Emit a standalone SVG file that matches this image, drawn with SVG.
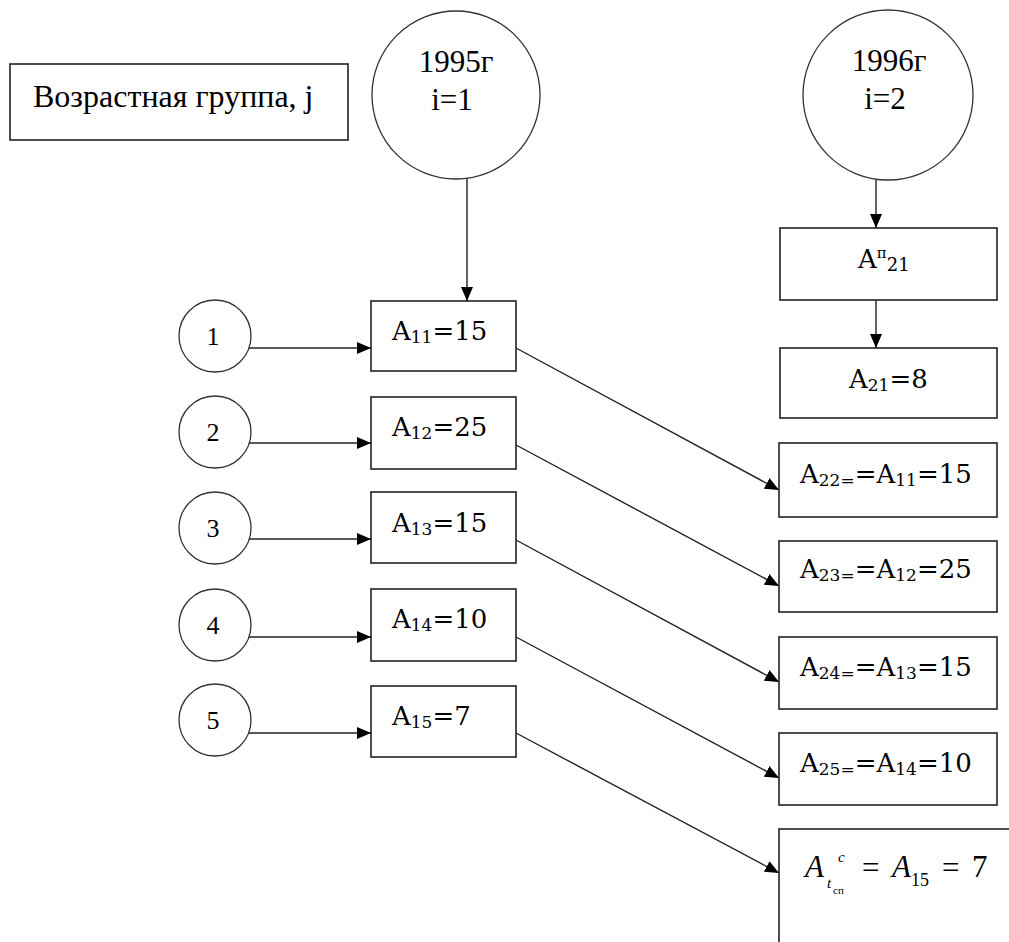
<svg xmlns="http://www.w3.org/2000/svg" width="1009" height="942" viewBox="0 0 1009 942">
<style>
.box{fill:#fff;stroke:#222;stroke-width:1.6}
.circ{fill:#fff;stroke:#333;stroke-width:1.3}
.ln{fill:none;stroke:#222;stroke-width:1.4}
.t{font-family:"Liberation Serif","Times New Roman",serif;fill:#000}
.a{font-family:"DejaVu Serif",serif;font-size:26px;fill:#000}
.s{font-size:17px}
.n{font-family:"Liberation Serif",serif;font-size:26px;fill:#000;text-anchor:middle}
</style>
<defs>
<marker id="ah" markerUnits="userSpaceOnUse" markerWidth="15" markerHeight="13" refX="14" refY="6" orient="auto">
<path d="M0,0 L14,6 L0,12 z" fill="#000"/>
</marker>
</defs>
<rect width="1009" height="942" fill="#fff"/>

<g id="connectors">
<line class="ln" x1="467" y1="178" x2="467" y2="301" marker-end="url(#ah)"/>
<line class="ln" x1="876" y1="179" x2="876" y2="228" marker-end="url(#ah)"/>
<line class="ln" x1="876" y1="300" x2="876" y2="348" marker-end="url(#ah)"/>
<line class="ln" x1="248" y1="348" x2="371" y2="348" marker-end="url(#ah)"/>
<line class="ln" x1="248" y1="443" x2="371" y2="443" marker-end="url(#ah)"/>
<line class="ln" x1="248" y1="539" x2="371" y2="539" marker-end="url(#ah)"/>
<line class="ln" x1="248" y1="637" x2="371" y2="637" marker-end="url(#ah)"/>
<line class="ln" x1="248" y1="733" x2="371" y2="733" marker-end="url(#ah)"/>
<line class="ln" x1="516" y1="348" x2="779" y2="490" marker-end="url(#ah)"/>
<line class="ln" x1="516" y1="445" x2="779" y2="586" marker-end="url(#ah)"/>
<line class="ln" x1="516" y1="540" x2="779" y2="682" marker-end="url(#ah)"/>
<line class="ln" x1="516" y1="637" x2="779" y2="778" marker-end="url(#ah)"/>
<line class="ln" x1="516" y1="733" x2="779" y2="873" marker-end="url(#ah)"/>
</g>

<g id="age-group">
<rect class="box" x="10" y="64" width="338" height="76"/>
<text class="t" x="33" y="107" font-size="32">Возрастная группа, j</text>
</g>

<g id="year1995">
<circle class="circ" cx="456" cy="95" r="84"/>
<text class="t" x="456" y="72" font-size="31" text-anchor="middle">1995г</text>
<text class="t" x="452" y="110" font-size="31" text-anchor="middle">i=1</text>
</g>

<g id="year1996">
<circle class="circ" cx="888" cy="95" r="85"/>
<text class="t" x="889" y="71" font-size="31" text-anchor="middle">1996г</text>
<text class="t" x="885" y="109" font-size="31" text-anchor="middle">i=2</text>
</g>

<g id="g1"><circle class="circ" cx="215" cy="336" r="36"/><text class="n" x="213" y="345">1</text></g>
<g id="g2"><circle class="circ" cx="215" cy="432" r="36"/><text class="n" x="213" y="441">2</text></g>
<g id="g3"><circle class="circ" cx="215" cy="528" r="36"/><text class="n" x="213" y="537">3</text></g>
<g id="g4"><circle class="circ" cx="215" cy="625" r="36"/><text class="n" x="213" y="634">4</text></g>
<g id="g5"><circle class="circ" cx="215" cy="720" r="36"/><text class="n" x="213" y="729">5</text></g>

<g id="a11"><rect class="box" x="371" y="301" width="145" height="70"/>
<text class="a" x="392" y="340">A<tspan class="s" dy="3">11</tspan><tspan dy="-3">=15</tspan></text></g>
<g id="a12"><rect class="box" x="371" y="397" width="145" height="72"/>
<text class="a" x="392" y="436">A<tspan class="s" dy="3">12</tspan><tspan dy="-3">=25</tspan></text></g>
<g id="a13"><rect class="box" x="371" y="492" width="145" height="71"/>
<text class="a" x="392" y="532">A<tspan class="s" dy="3">13</tspan><tspan dy="-3">=15</tspan></text></g>
<g id="a14"><rect class="box" x="371" y="589" width="145" height="72"/>
<text class="a" x="392" y="628">A<tspan class="s" dy="3">14</tspan><tspan dy="-3">=10</tspan></text></g>
<g id="a15"><rect class="box" x="371" y="686" width="145" height="71"/>
<text class="a" x="392" y="725">A<tspan class="s" dy="3">15</tspan><tspan dy="-3">=7</tspan></text></g>

<g id="ap21"><rect class="box" x="780" y="228" width="217" height="72"/>
<text class="a" x="858" y="268">A<tspan font-size="15" dy="-10">п</tspan><tspan font-size="18" dy="13">21</tspan></text></g>
<g id="a21"><rect class="box" x="780" y="348" width="217" height="70"/>
<text class="a" x="849" y="388">A<tspan class="s" dy="3">21</tspan><tspan dy="-3">=8</tspan></text></g>
<g id="a22"><rect class="box" x="779" y="443" width="218" height="74"/>
<text class="a" x="800" y="483">A<tspan class="s" dy="3">22=</tspan><tspan dy="-3">=A</tspan><tspan class="s" dy="3">11</tspan><tspan dy="-3">=15</tspan></text></g>
<g id="a23"><rect class="box" x="779" y="541" width="218" height="71"/>
<text class="a" x="800" y="578">A<tspan class="s" dy="3">23=</tspan><tspan dy="-3">=A</tspan><tspan class="s" dy="3">12</tspan><tspan dy="-3">=25</tspan></text></g>
<g id="a24"><rect class="box" x="779" y="637" width="218" height="72"/>
<text class="a" x="800" y="676">A<tspan class="s" dy="3">24=</tspan><tspan dy="-3">=A</tspan><tspan class="s" dy="3">13</tspan><tspan dy="-3">=15</tspan></text></g>
<g id="a25"><rect class="box" x="779" y="733" width="218" height="72"/>
<text class="a" x="800" y="772">A<tspan class="s" dy="3">25=</tspan><tspan dy="-3">=A</tspan><tspan class="s" dy="3">14</tspan><tspan dy="-3">=10</tspan></text></g>

<g id="atcn"><rect class="box" x="779" y="829" width="250" height="130"/>
<text class="t" font-size="31"><tspan x="805" y="877" font-style="italic">A</tspan><tspan x="838" y="862" font-size="15" font-style="italic">c</tspan><tspan x="827" y="888" font-size="15" font-style="italic">t</tspan><tspan x="833" y="894" font-size="11">сп</tspan><tspan x="862" y="878">=</tspan><tspan x="892" y="877" font-style="italic">A</tspan><tspan x="911" y="886" font-size="18">15</tspan><tspan x="942" y="878">=</tspan><tspan x="972" y="877">7</tspan></text></g>
</svg>
